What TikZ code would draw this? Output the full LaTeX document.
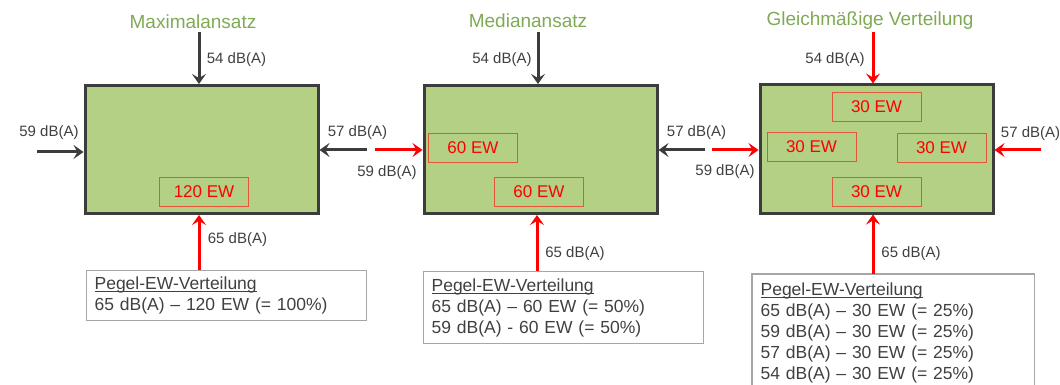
\documentclass[tikz,border=0pt]{standalone}
\usepackage{fontspec}
\setmainfont{Liberation Sans}
\usetikzlibrary{arrows.meta}
\definecolor{boxgreen}{HTML}{B4D084}
\definecolor{titlegreen}{HTML}{7FAA55}
\definecolor{darkline}{HTML}{3C3C3C}
\definecolor{labelgray}{HTML}{404040}
\definecolor{ewred}{HTML}{FF0000}
\definecolor{ewborder}{HTML}{E5553A}
\definecolor{pegelgray}{HTML}{A6A6A6}
\newcommand{\ulpegel}[1]{\setbox0\hbox{#1}\rlap{\copy0}\rule[-2.2pt]{\wd0}{0.8pt}}
\tikzset{
  bigbox/.style={draw=darkline, line width=3pt, fill=boxgreen, minimum width=233pt, minimum height=128pt, inner sep=0pt},
  ewbox/.style={draw=ewborder, line width=0.9pt, text=ewred, font=\fontsize{17}{20}\selectfont, minimum width=89pt, minimum height=29pt, inner sep=0pt},
  title/.style={text=titlegreen, font=\fontsize{19}{22}\selectfont, inner sep=0pt},
  lbl/.style={text=labelgray, font=\fontsize{15}{18}\selectfont, inner sep=0pt},
  darr/.style={draw=darkline, line width=3pt, -{Stealth[length=10pt,width=14pt,inset=4pt]}},
  rarr/.style={draw=ewred, line width=3pt, -{Stealth[length=10pt,width=14pt,inset=4pt]}},
  pegelframe/.style={draw=pegelgray, line width=1.2pt},
  pegel/.style={pegelframe, anchor=north west, align=left, text=labelgray,
    font=\fontsize{17.5}{21}\selectfont, inner xsep=8pt, inner ysep=3pt},
}
\begin{document}
\begin{tikzpicture}[x=1pt,y=-1pt]
\useasboundingbox (0,0) rectangle (1060,385);
\clip (0,0) rectangle (1060,385);
% big boxes
\node[bigbox] (box1) at (201.5,149.5) {};
\node[bigbox] (box2) at (540.5,149.5) {};
\node[bigbox] (box3) at (876.5,149) {};
% titles
\node[title] (t1) at (193,22) {Maximalansatz};
\node[title] (t2) at (528,21) {Medianansatz};
\node[title] (t3) at (870,21) {Gleichmäßige Verteilung};
% EW boxes
\node[ewbox] (e1) at (204,191.5) {120 EW};
\node[ewbox] (e2a) at (473,147.5) {60 EW};
\node[ewbox] (e2b) at (539,191.5) {60 EW};
\node[ewbox] (e3t) at (876.5,106.5) {30 EW};
\node[ewbox] (e3l) at (811.5,146.5) {30 EW};
\node[ewbox] (e3r) at (941.5,147.5) {30 EW};
\node[ewbox] (e3b) at (876.5,191.5) {30 EW};
% Pegel boxes
\node[pegel, text width=264pt, minimum height=50pt] (p1) at (86,270) {\ulpegel{Pegel-EW-Verteilung}\\65 dB(A) – 120 EW (= 100\%)};
\node[pegel, text width=264pt, minimum height=72pt] (p2) at (423,271) {\ulpegel{Pegel-EW-Verteilung}\\65 dB(A) – 60 EW (= 50\%)\\59 dB(A) - 60 EW (= 50\%)};
\node[pegel, draw=none, inner ysep=8pt, text width=265pt] (p3) at (752,274) {\ulpegel{Pegel-EW-Verteilung}\\65 dB(A) – 30 EW (= 25\%)\\59 dB(A) – 30 EW (= 25\%)\\57 dB(A) – 30 EW (= 25\%)\\54 dB(A) – 30 EW (= 25\%)};
\draw[pegelframe] (p3.north west) rectangle ([yshift=-130pt]p3.north east);
% arrow start coordinates
\coordinate (a1t) at (199,32);
\coordinate (a1l) at (37,152);
\coordinate (a1r) at (367,150);
\coordinate (a2l) at (375,150);
\coordinate (a1b) at (199,270);
\coordinate (a2t) at (538,32);
\coordinate (a2r) at (705,150);
\coordinate (a3l) at (712,150);
\coordinate (a2b) at (537,271);
\coordinate (a3t) at (873,32);
\coordinate (a3r) at (1041,150);
\coordinate (a3b) at (873,274);
% arrows
\draw[darr] (a1t) -- (a1t |- box1.north);
\draw[darr] (a1l) -- (a1l -| box1.west);
\draw[darr] (a1r) -- (a1r -| box1.east);
\draw[rarr] (a2l) -- (a2l -| box2.west);
\draw[rarr] (a1b) -- (a1b |- box1.south);
\draw[darr] (a2t) -- (a2t |- box2.north);
\draw[darr] (a2r) -- (a2r -| box2.east);
\draw[rarr] (a3l) -- (a3l -| box3.west);
\draw[rarr] (a2b) -- (a2b |- box2.south);
\draw[rarr] (a3t) -- (a3t |- box3.north);
\draw[rarr] (a3r) -- (a3r -| box3.east);
\draw[rarr] (a3b) -- (a3b |- box3.south);
% labels
\node[lbl] (l1t) at (236.5,60) {54 dB(A)};
\node[lbl] (l1l) at (49,133) {59 dB(A)};
\node[lbl] (l1r) at (357.5,133) {57 dB(A)};
\node[lbl] (l2l) at (387,173) {59 dB(A)};
\node[lbl] (l1b) at (237.5,240) {65 dB(A)};
\node[lbl] (l2t) at (502,60) {54 dB(A)};
\node[lbl] (l2r) at (696.5,133) {57 dB(A)};
\node[lbl] (l3l) at (725,172) {59 dB(A)};
\node[lbl] (l2b) at (575,254) {65 dB(A)};
\node[lbl] (l3t) at (835,60) {54 dB(A)};
\node[lbl] (l3r) at (1030.5,134) {57 dB(A)};
\node[lbl] (l3b) at (911,254) {65 dB(A)};
\end{tikzpicture}
\end{document}
